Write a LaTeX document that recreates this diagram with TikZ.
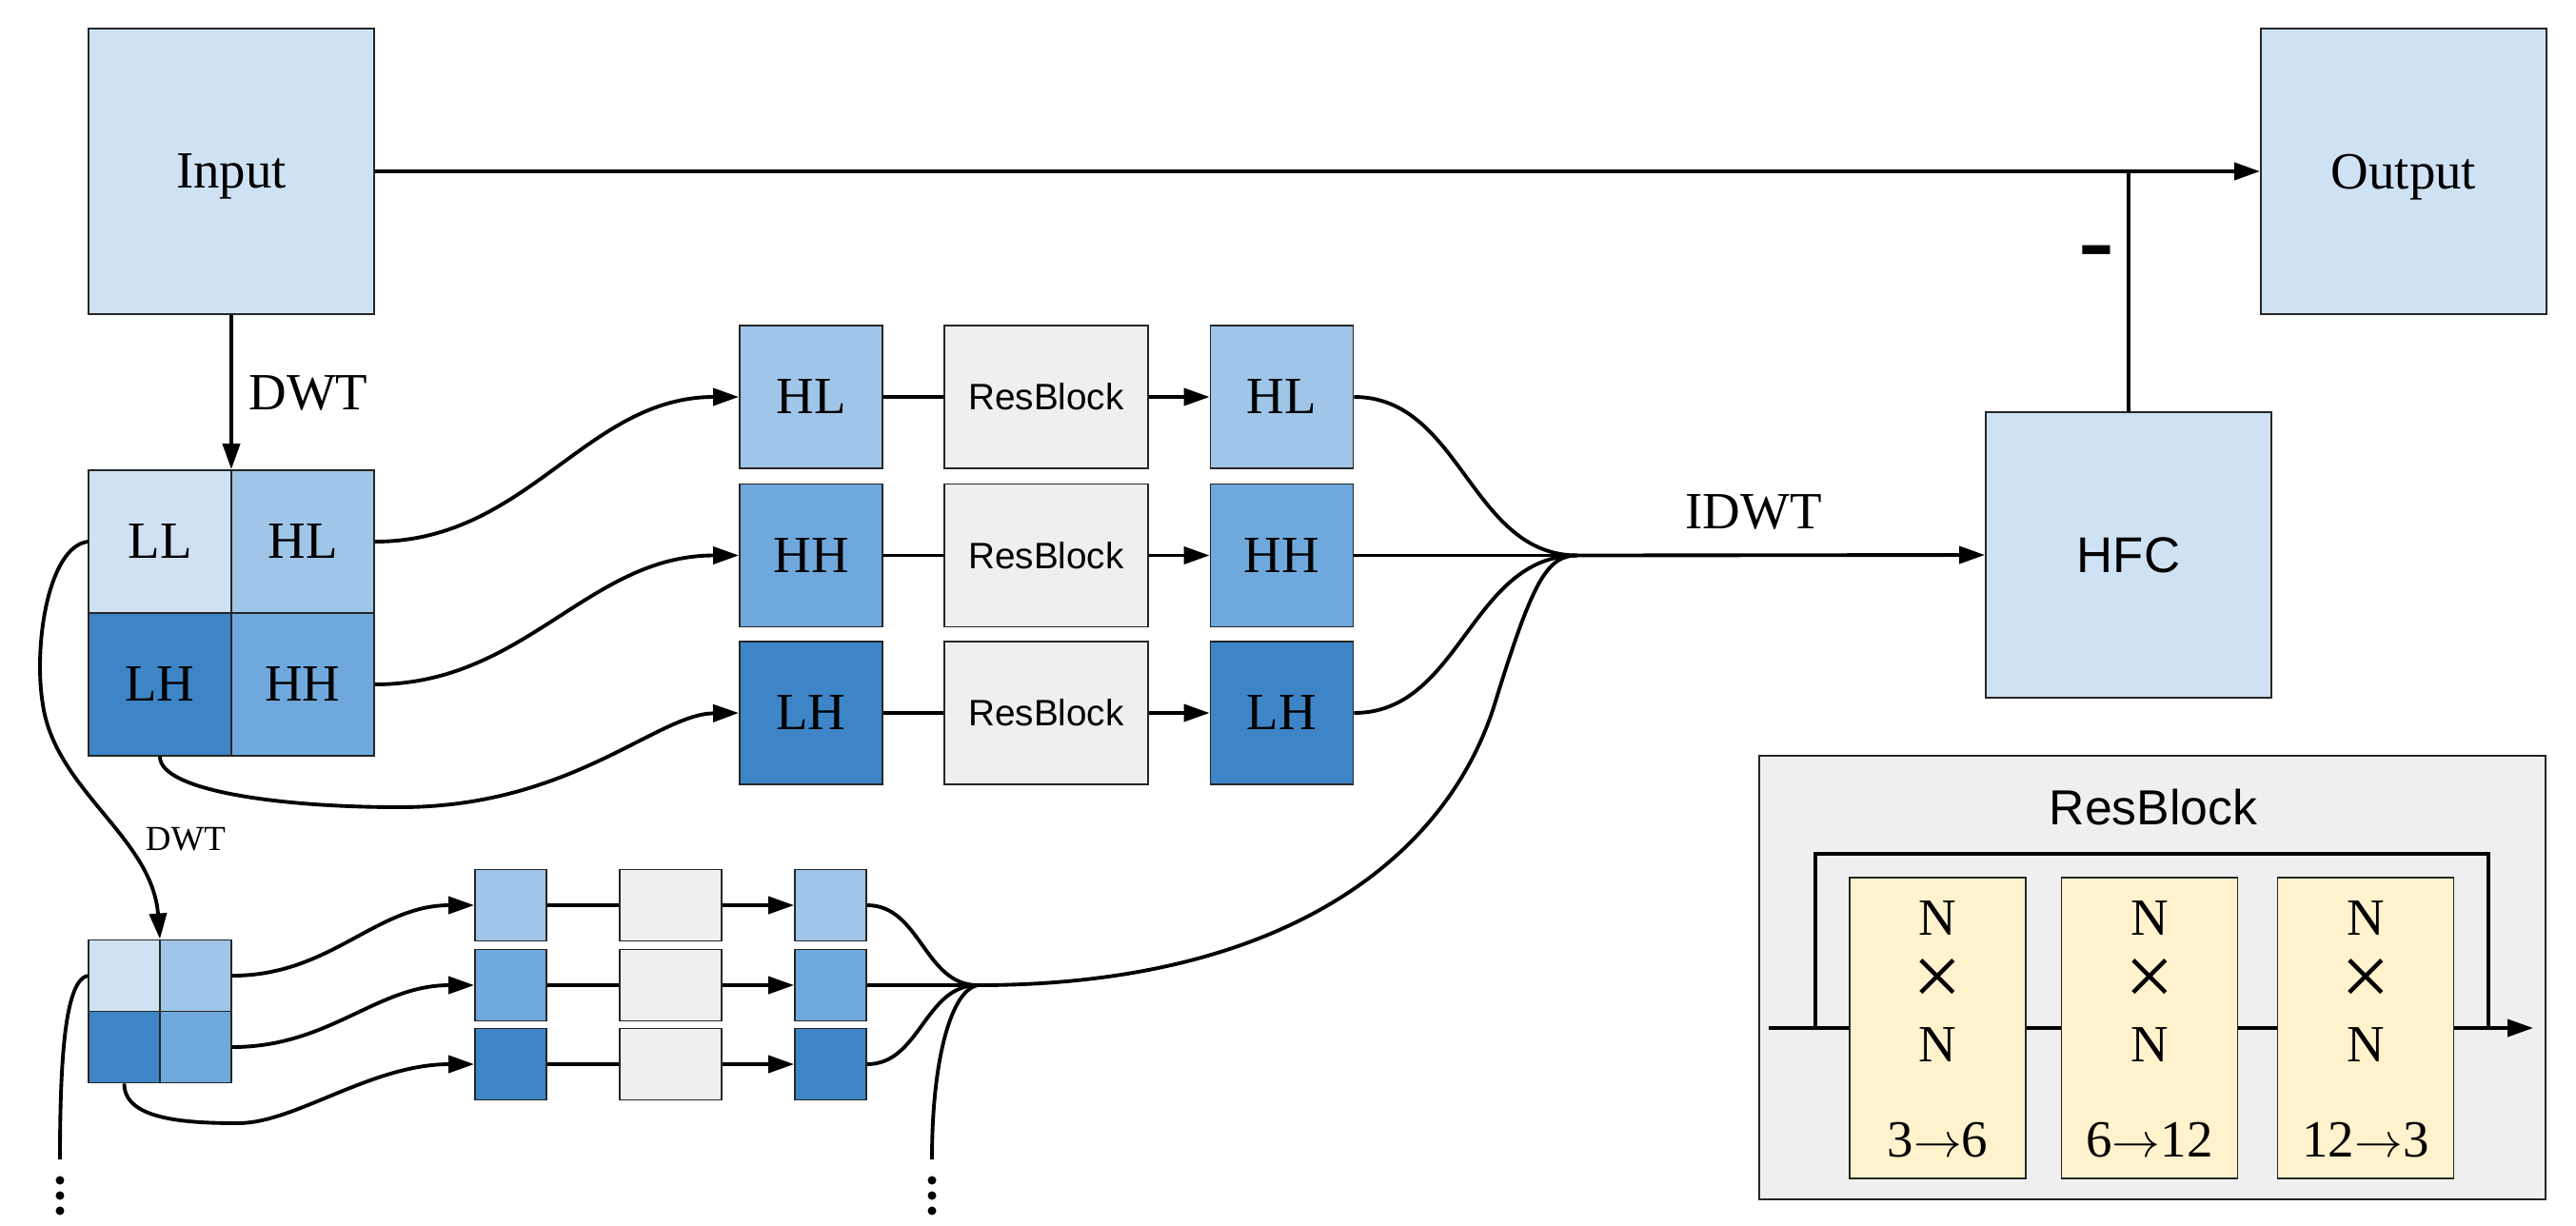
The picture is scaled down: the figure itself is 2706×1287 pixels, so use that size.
\documentclass[tikz,border=0pt]{standalone}
\usepackage{fontspec}
\setmainfont{Liberation Serif}
\newfontfamily\sansf{Liberation Sans}
\usetikzlibrary{arrows.meta,calc}
\definecolor{bluePale}{HTML}{CFE2F3}
\definecolor{blueLight}{HTML}{9FC5E8}
\definecolor{blueMid}{HTML}{6FA8DC}
\definecolor{blueDark}{HTML}{3D85C6}
\definecolor{grayFill}{HTML}{EFEFEF}
\definecolor{yellowFill}{HTML}{FFF2CC}
\begin{document}
\begin{tikzpicture}[x=0.01cm,y=-0.01cm,
  blk/.style={draw=black!85, line width=0.5pt, inner sep=0pt,
    font=\fontsize{15.6}{18}\selectfont},
  bigbox/.style={blk, fill=bluePale, minimum width=3cm, minimum height=3cm, text depth=0pt},
  sq/.style={blk, minimum width=1.5cm, minimum height=1.5cm},
  ssq/.style={blk, minimum width=0.75cm, minimum height=0.75cm},
  resbox/.style={blk, fill=grayFill, minimum width=2.14cm, minimum height=1.5cm,
    font=\sansf\fontsize{11}{13}\selectfont},
  sresbox/.style={blk, fill=grayFill, minimum width=1.07cm, minimum height=0.75cm},
  convbox/.style={blk, fill=yellowFill, minimum width=1.85cm, minimum height=3.16cm},
  ctext/.style={font=\fontsize{15.6}{18}\selectfont, inner sep=0pt},
  timestext/.style={ctext, font=\fontsize{26}{26}\selectfont, text height=11pt, text depth=0pt},
  wire/.style={line width=1.1pt},
  arr/.style={wire, -{Triangle[length=0.27cm,width=0.18cm]}},
]
\useasboundingbox (0,0) rectangle (2706,1287);

% ---------- input / output / HFC ----------
\node[bigbox] (in)  at (243,180)  {Input};
\node[bigbox] (out) at (2525,180) {Output};
\node[bigbox, font=\sansf\fontsize{15}{18}\selectfont] (hfc) at (2236,583) {HFC};

% ---------- first-level DWT sub-bands ----------
\node[sq, fill=bluePale]  (LL) at (168,569) {LL};
\node[sq, fill=blueLight] (HL) at (318,569) {HL};
\node[sq, fill=blueDark]  (LH) at (168,719) {LH};
\node[sq, fill=blueMid]   (HH) at (318,719) {HH};

\node[sq, fill=blueLight] (lHL) at (852,417)   {HL};
\node[sq, fill=blueMid]   (lHH) at (852,583.5) {HH};
\node[sq, fill=blueDark]  (lLH) at (852,749)   {LH};

\node[resbox] (rb1) at (1099,417)   {ResBlock};
\node[resbox] (rb2) at (1099,583.5) {ResBlock};
\node[resbox] (rb3) at (1099,749)   {ResBlock};

\node[sq, fill=blueLight] (rHL) at (1346.5,417)   {HL};
\node[sq, fill=blueMid]   (rHH) at (1346.5,583.5) {HH};
\node[sq, fill=blueDark]  (rLH) at (1346.5,749)   {LH};

\coordinate (mg) at (1657,583.5);

% ---------- second-level DWT sub-bands ----------
\node[ssq, fill=bluePale]  (sLL) at (130.5,1025) {};
\node[ssq, fill=blueLight] (sHL) at (205.5,1025) {};
\node[ssq, fill=blueDark]  (sLH) at (130.5,1100) {};
\node[ssq, fill=blueMid]   (sHH) at (205.5,1100) {};

\node[ssq, fill=blueLight] (aHL) at (536.5,951)  {};
\node[ssq, fill=blueMid]   (aHH) at (536.5,1035) {};
\node[ssq, fill=blueDark]  (aLH) at (536.5,1118) {};

\node[sresbox] (sr1) at (704.5,951)  {};
\node[sresbox] (sr2) at (704.5,1035) {};
\node[sresbox] (sr3) at (704.5,1118) {};

\node[ssq, fill=blueLight] (bHL) at (872.5,951)  {};
\node[ssq, fill=blueMid]   (bHH) at (872.5,1035) {};
\node[ssq, fill=blueDark]  (bLH) at (872.5,1118) {};

\coordinate (smg) at (1027,1035);

% ---------- main path ----------
\draw[arr] (in.east) -- (out.west);
\coordinate (jn) at (hfc.north |- in.east);
\draw[wire] (hfc.north) -- (jn);
\node[font=\sansf\fontsize{34}{34}\selectfont, inner sep=0pt] (minus) at (2202,276) {-};

\draw[arr] (in.south) -- (in.south |- LL.north);
\node[font=\fontsize{15.6}{18}\selectfont] (dwt1) at (324,413) {DWT};

% sub-bands to the processing rows
\draw[arr] (HL.east) to[out=0,in=180] (lHL.west);
\draw[arr] (HH.east) to[out=0,in=180] (lHH.west);
\draw[arr] (LH.south) .. controls (168,830) and (290,848) .. (420,848)
                      .. controls (600,848) and (690,750) .. (lLH.west);

\draw[wire] (lHL.east) -- (rb1.west);
\draw[wire] (lHH.east) -- (rb2.west);
\draw[wire] (lLH.east) -- (rb3.west);
\draw[arr] (rb1.east) -- (rHL.west);
\draw[arr] (rb2.east) -- (rHH.west);
\draw[arr] (rb3.east) -- (rLH.west);

\draw[wire] (rHL.east) to[out=0,in=180] (mg);
\draw[wire] (rLH.east) to[out=0,in=180] (mg);
\draw[wire] (rHH.east) -- (mg);
\draw[arr] (mg) -- (hfc.west);
\node[font=\fontsize{15.6}{18}\selectfont] (idwt) at (1842,538) {IDWT};

% LL band goes to the next decomposition level
\draw[arr] (LL.west) .. controls (50,575) and (35,680) .. (45,740)
                     .. controls (58,830) and (160,880) .. ($(sLL.north east)!0.5!(sHL.north west)$);
\node[font=\fontsize{10.5}{12}\selectfont] (dwt2) at (195,882) {DWT};

% second-level rows
\draw[arr] (sHL.east) to[out=0,in=180] (aHL.west);
\draw[arr] (sHH.east) to[out=0,in=180] (aHH.west);
\draw[arr] (sLH.south) .. controls (130.5,1175) and (190,1180) .. (250,1180)
                       .. controls (310,1180) and (390,1118) .. (aLH.west);

\draw[wire] (aHL.east) -- (sr1.west);
\draw[wire] (aHH.east) -- (sr2.west);
\draw[wire] (aLH.east) -- (sr3.west);
\draw[arr] (sr1.east) -- (bHL.west);
\draw[arr] (sr2.east) -- (bHH.west);
\draw[arr] (sr3.east) -- (bLH.west);

\draw[wire] (bHL.east) to[out=0,in=180] (smg);
\draw[wire] (bLH.east) to[out=0,in=180] (smg);
\draw[wire] (bHH.east) -- (smg);

\draw[wire] (smg) .. controls (1350,1035) and (1520,900) .. (1570,740)
                  .. controls (1610,610) and (1625,583.5) .. (mg);

% further levels
\coordinate (lv1) at (63,1218);
\coordinate (lv2) at (979,1218);
\draw[wire] (sLL.west) .. controls (70,1030) and (63,1100) .. (lv1);
\draw[wire] (smg) .. controls (1000,1040) and (979,1110) .. (lv2);
\foreach \yy in {1240,1256,1272}{
  \fill (63,\yy) circle[radius=0.045cm];
  \fill (979,\yy) circle[radius=0.045cm];
}

% ---------- ResBlock detail ----------
\node[draw=black!85, line width=0.5pt, fill=grayFill, minimum width=8.26cm,
      minimum height=4.66cm, inner sep=0pt] (panel) at (2261,1027) {};
\node[font=\sansf\fontsize{14.7}{17}\selectfont] (ptitle) at (2262,848) {ResBlock};

\coordinate (pin)  at (1858,1080);
\coordinate (pout) at (2661,1080);
\coordinate (ska)  at (1907,1080);
\coordinate (skl)  at (1907,897);
\coordinate (skr)  at (2614,897);
\coordinate (skb)  at (2614,1080);
\draw[wire] (ska) -- (skl) -- (skr) -- (skb);

\node[convbox] (c1) at (2035.5,1080) {};
\node[convbox] (c2) at (2258,1080)   {};
\node[convbox] (c3) at (2485,1080)   {};

\draw[wire] (pin) -- (c1.west);
\draw[wire] (c1.east) -- (c2.west);
\draw[wire] (c2.east) -- (c3.west);
\draw[arr] (c3.east) -- (pout);

\foreach \c/\lab in {c1/{3$\rightarrow$6}, c2/{6$\rightarrow$12}, c3/{12$\rightarrow$3}}{
  \node[ctext] at ($(\c)+(0,-115)$) {N};
  \node[timestext] at ($(\c)+(0,-43)$) {×};
  \node[ctext] at ($(\c)+(0,18)$) {N};
  \node[ctext] at ($(\c)+(0,118)$) {\lab};
}
\end{tikzpicture}
\end{document}
